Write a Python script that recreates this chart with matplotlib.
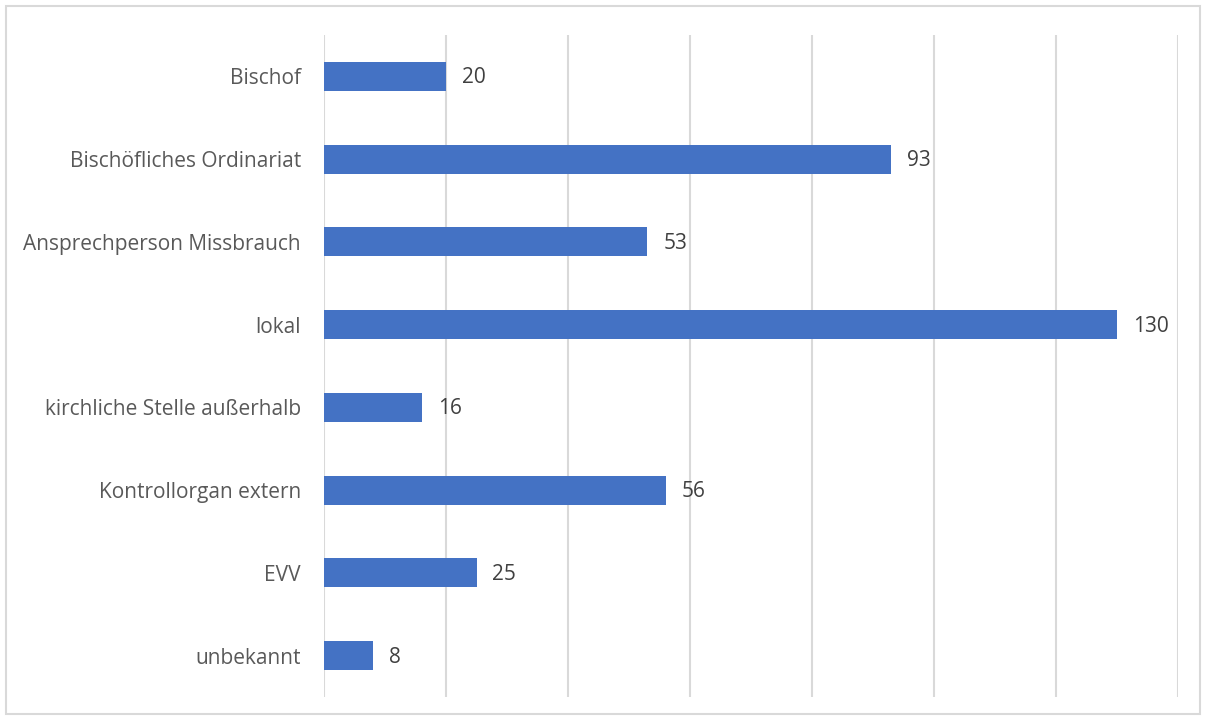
import matplotlib
matplotlib.use('Agg')
import matplotlib.pyplot as plt
from matplotlib.patches import Rectangle

categories = ['Bischof', 'Bischöfliches Ordinariat', 'Ansprechperson Missbrauch', 'lokal',
              'kirchliche Stelle außerhalb', 'Kontrollorgan extern', 'EVV', 'unbekannt']
values = [20, 93, 53, 130, 16, 56, 25, 8]

plt.rcParams['font.family'] = ['Open Sans', 'DejaVu Sans']

fig = plt.figure(figsize=(12.06, 7.2), dpi=100)
ax = fig.add_axes([324 / 1206, 1 - 697 / 720, (1178 - 324) / 1206, (697 - 35) / 720])

pos = list(range(len(categories)))
ax.barh(pos, values, height=0.35, color='#4472C4', zorder=3)

for p, v in zip(pos, values):
    ax.annotate(str(v), (v, p), xytext=(11.5, -1), textcoords='offset points',
                va='center', ha='left', fontsize=15, color='#404040')

ax.set_xlim(0, 140)
ax.set_ylim(len(categories) - 0.5, -0.5)
ax.set_xticks(range(0, 141, 20))
ax.set_xticklabels([])
ax.tick_params(axis='x', length=0)
ax.tick_params(axis='y', length=0, pad=16.5, labelsize=15, labelcolor='#595959')
ax.set_yticks(pos)
ax.set_yticklabels(categories)
ax.grid(axis='x', color='#d9d9d9', linewidth=1.5, zorder=0)
for s in ax.spines.values():
    s.set_visible(False)

fig.patches.append(Rectangle((6 / 1206, 6 / 720), 1194 / 1206, 708 / 720,
                             transform=fig.transFigure, fill=False,
                             edgecolor='#d9d9d9', linewidth=1.5))

fig.savefig('out.png', dpi=100)
